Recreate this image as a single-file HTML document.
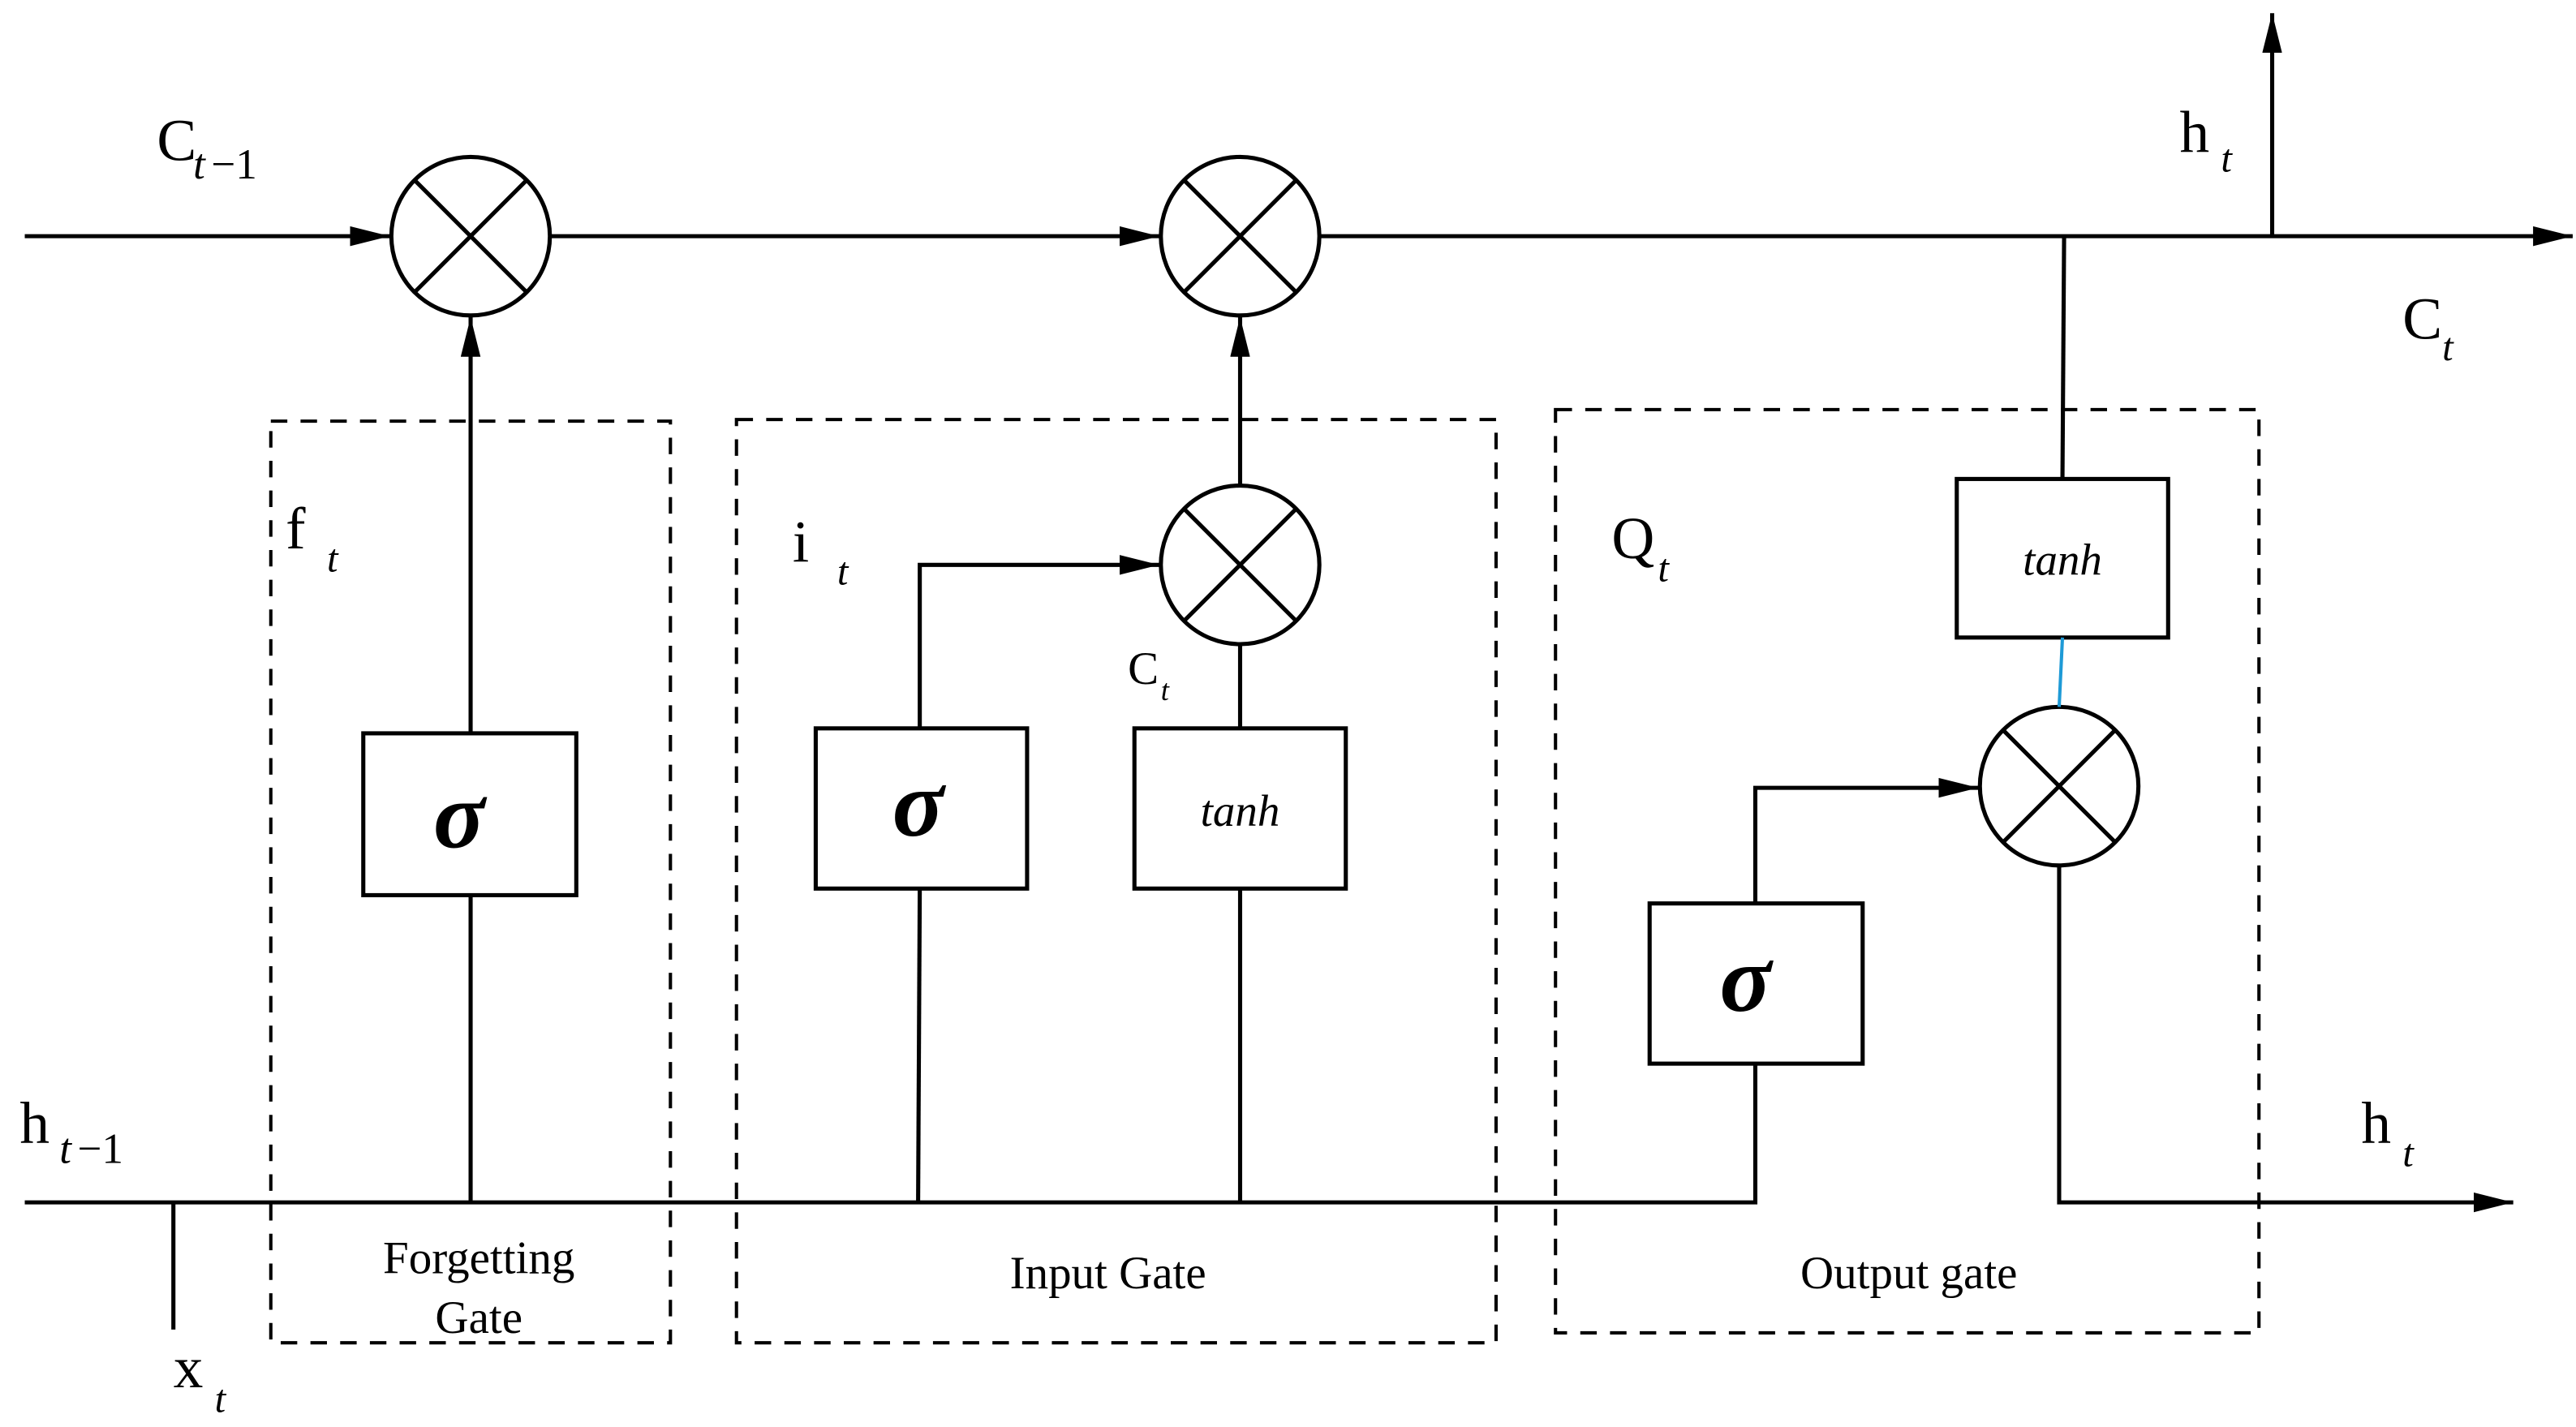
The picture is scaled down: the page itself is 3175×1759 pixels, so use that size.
<!DOCTYPE html>
<html><head><meta charset="utf-8"><style>
html,body{margin:0;padding:0;background:#fff;width:3175px;height:1759px;overflow:hidden}
svg{display:block}
text{font-family:"Liberation Serif",serif;fill:#000}
</style></head><body>
<svg width="3175" height="1759" viewBox="0 0 1560 864" preserveAspectRatio="none" xmlns="http://www.w3.org/2000/svg">
<defs>
<marker id="a" viewBox="0 0 10 10" refX="10" refY="5" markerWidth="10" markerHeight="10" markerUnits="userSpaceOnUse" orient="auto"><path d="M0,0 L10,5 L0,10 z" fill="#000"/></marker>
<marker id="b" viewBox="0 0 24 12" refX="24" refY="6" markerWidth="24" markerHeight="12" markerUnits="userSpaceOnUse" orient="auto"><path d="M0,0 L24,6 L0,12 z" fill="#000"/></marker>
</defs>
<g stroke="#000" stroke-width="2.5" fill="none">
<!-- top line -->
<line x1="15" y1="143" x2="236" y2="143" marker-end="url(#b)"/>
<line x1="334" y1="143" x2="702" y2="143" marker-end="url(#b)"/>
<line x1="800" y1="143" x2="1558" y2="143" marker-end="url(#b)"/>
<line x1="1376" y1="143" x2="1376" y2="8" marker-end="url(#b)"/>
<line x1="1250" y1="143" x2="1249" y2="290"/>
<!-- multiply circles -->
<g id="m1"><ellipse cx="285" cy="143" rx="48" ry="48"/><line x1="251" y1="109" x2="319" y2="177"/><line x1="319" y1="109" x2="251" y2="177"/></g>
<g><ellipse cx="751" cy="143" rx="48" ry="48"/><line x1="717" y1="109" x2="785" y2="177"/><line x1="785" y1="109" x2="717" y2="177"/></g>
<g><ellipse cx="751" cy="342" rx="48" ry="48"/><line x1="717" y1="308" x2="785" y2="376"/><line x1="785" y1="308" x2="717" y2="376"/></g>
<g><ellipse cx="1247" cy="476" rx="48" ry="48"/><line x1="1213" y1="442" x2="1281" y2="510"/><line x1="1281" y1="442" x2="1213" y2="510"/></g>
<!-- dashed boxes -->
<g stroke-dasharray="10,8" stroke-width="2">
<rect x="164" y="255" width="242" height="558"/>
<rect x="446" y="254" width="460" height="559"/>
<rect x="942" y="248" width="426" height="559"/>
</g>
<!-- boxes -->
<rect x="220" y="444" width="129" height="98"/>
<rect x="494" y="441" width="128" height="97"/>
<rect x="687" y="441" width="128" height="97"/>
<rect x="1185" y="290" width="128" height="96"/>
<rect x="999" y="547" width="129" height="97"/>
<!-- forget -->
<line x1="285" y1="444" x2="285" y2="192" marker-end="url(#b)"/>
<line x1="285" y1="542" x2="285" y2="728"/>
<!-- input -->
<polyline points="557,441 557,342 702,342" marker-end="url(#b)"/>
<line x1="751" y1="293" x2="751" y2="192" marker-end="url(#b)"/>
<line x1="751" y1="441" x2="751" y2="390"/>
<line x1="557" y1="538" x2="556" y2="728"/>
<line x1="751" y1="538" x2="751" y2="728"/>
<!-- output -->
<polyline points="1063,547 1063,477 1198,477" marker-end="url(#b)"/>
<line x1="1249" y1="386" x2="1247" y2="428" stroke="#1e9ad6" stroke-width="2"/>
<polyline points="15,728 1063,728 1063,644"/>
<polyline points="1247,524 1247,728 1522,728" marker-end="url(#b)"/>
<line x1="105" y1="728" x2="105" y2="805"/>
</g>
<!-- labels -->
<text x="95" y="97" font-size="36">C</text><text x="117" y="108" font-size="26" font-style="italic">t</text><text x="128" y="108" font-size="26">−1</text>
<text x="1320" y="92" font-size="36">h</text><text x="1345" y="104" font-size="24" font-style="italic">t</text>
<text x="1455" y="205" font-size="36">C</text><text x="1479" y="218" font-size="24" font-style="italic">t</text>
<text x="173" y="332" font-size="36" font-family="Liberation Mono">f</text><text x="198" y="346" font-size="24" font-style="italic">t</text>
<text x="480" y="340" font-size="36" font-family="Liberation Mono">i</text><text x="507" y="354" font-size="24" font-style="italic">t</text>
<text x="976" y="338" font-size="36" font-family="Liberation Mono">Q</text><text x="1004" y="352" font-size="24" font-style="italic">t</text>
<text x="683" y="414" font-size="28">C</text><text x="703" y="424" font-size="18" font-style="italic">t</text>
<text x="12" y="692" font-size="36">h</text><text x="36" y="704" font-size="26" font-style="italic">t</text><text x="47" y="704" font-size="26">−1</text>
<text x="1430" y="692" font-size="36">h</text><text x="1455" y="706" font-size="24" font-style="italic">t</text>
<text x="105" y="840" font-size="36" font-family="Liberation Mono">x</text><text x="130" y="855" font-size="24" font-style="italic">t</text>
<g font-size="58" font-style="italic" font-weight="bold" text-anchor="middle">
<text x="278" y="513">σ</text><text x="556" y="506">σ</text><text x="1057" y="612">σ</text>
</g>
<g font-size="27" font-style="italic" text-anchor="middle">
<text x="751" y="500">tanh</text><text x="1249" y="348">tanh</text>
</g>
<g font-size="28" text-anchor="middle">
<text x="290" y="771">Forgetting</text><text x="290" y="807">Gate</text>
<text x="671" y="780">Input Gate</text>
<text x="1156" y="780">Output gate</text>
</g>
</svg>
</body></html>
